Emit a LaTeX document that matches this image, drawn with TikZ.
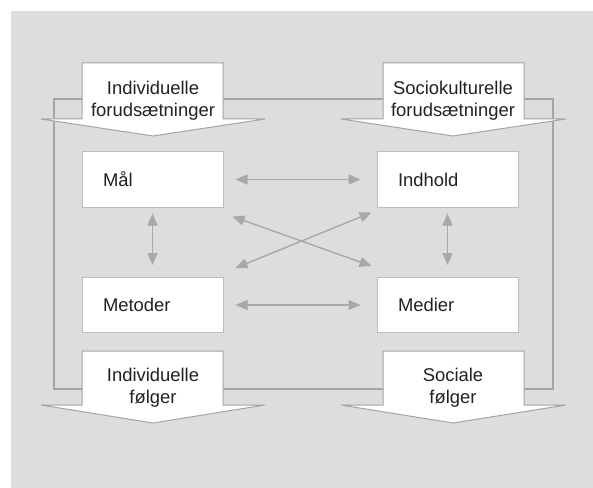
\documentclass[tikz,border=0pt]{standalone}
\usepackage{fontspec}
\setmainfont{Liberation Sans}
\usetikzlibrary{arrows.meta,calc}

\definecolor{baggrund}{HTML}{DCDDDE}
\definecolor{rammegraa}{HTML}{A4A4A4}
\definecolor{kassegraa}{HTML}{BDBDBD}
\definecolor{pilgraa}{HTML}{A8A8A8}
\definecolor{tekstfarve}{HTML}{222222}

\newcommand{\diagfont}{\fontsize{18.5}{22}\selectfont}

\tikzset{
	faktor/.style={draw=kassegraa, line width=1bp, fill=white, minimum width=141bp,
		minimum height=55bp, inner xsep=21bp, text width=99bp, align=left,
		text=tekstfarve, font=\diagfont},
	blokpil/.style={draw=rammegraa, line width=1bp, fill=white, line join=miter},
	piltekst/.style={align=center, text=tekstfarve, font=\diagfont, inner sep=0pt},
	dobbeltpil/.style={pilgraa, line width=1.4bp,
		{Triangle[length=12bp,width=10bp]}-{Triangle[length=12bp,width=10bp]}},
}

\begin{document}
\begin{tikzpicture}[x=1bp,y=-1bp]
	\useasboundingbox (0,0) rectangle (593,488);
	\fill[baggrund] (11,11) rectangle (593,488);
	
	% ramme
	\draw[rammegraa, line width=1.2bp] (54,99) rectangle (553,389);
	
	% forudsaetninger
	\draw[blokpil] (82,63) -- (223,63) -- (223,119) -- (265,119) -- (153,136) -- (41,119) -- (82,119) -- cycle;
	\node[piltekst] (indfor) at (153,101) {Individuelle\\forudsætninger};
	\draw[blokpil] (383,63) -- (524,63) -- (524,119) -- (566,119) -- (453,136) -- (341,119) -- (383,119) -- cycle;
	\node[piltekst] (socfor) at (453,101) {Sociokulturelle\\forudsætninger};
	
	% foelger
	\draw[blokpil] (82,351) -- (223,351) -- (223,405) -- (265,405) -- (153,423) -- (41,405) -- (82,405) -- cycle;
	\node[piltekst] (indfol) at (153,388) {Individuelle\\følger};
	\draw[blokpil] (383,351) -- (524,351) -- (524,405) -- (566,405) -- (453,423) -- (341,405) -- (383,405) -- cycle;
	\node[piltekst] (socfol) at (453,388) {Sociale\\følger};
	
	% de fire faktorer
	\node[faktor] (maal) at (152.5,179.5) {Mål};
	\node[faktor] (indhold) at (447.5,179.5) {Indhold};
	\node[faktor] (metoder) at (152.5,305) {Metoder};
	\node[faktor] (medier) at (447.5,305) {Medier};
	
	\draw[dobbeltpil, shorten <=12bp, shorten >=16bp] (maal) -- (indhold);
	\draw[dobbeltpil, shorten <=12bp, shorten >=16bp] (metoder) -- (medier);
	\draw[dobbeltpil, shorten <=6bp, shorten >=12bp] (maal) -- (metoder);
	\draw[dobbeltpil, shorten <=6bp, shorten >=12bp] (indhold) -- (medier);
	\draw[dobbeltpil] ($(maal.south east)+(9,9)$) -- ($(medier.north west)+(-5,-11)$);
	\draw[dobbeltpil] ($(metoder.north east)+(12,-9)$) -- ($(indhold.south west)+(-5,5)$);
\end{tikzpicture}
\end{document}
